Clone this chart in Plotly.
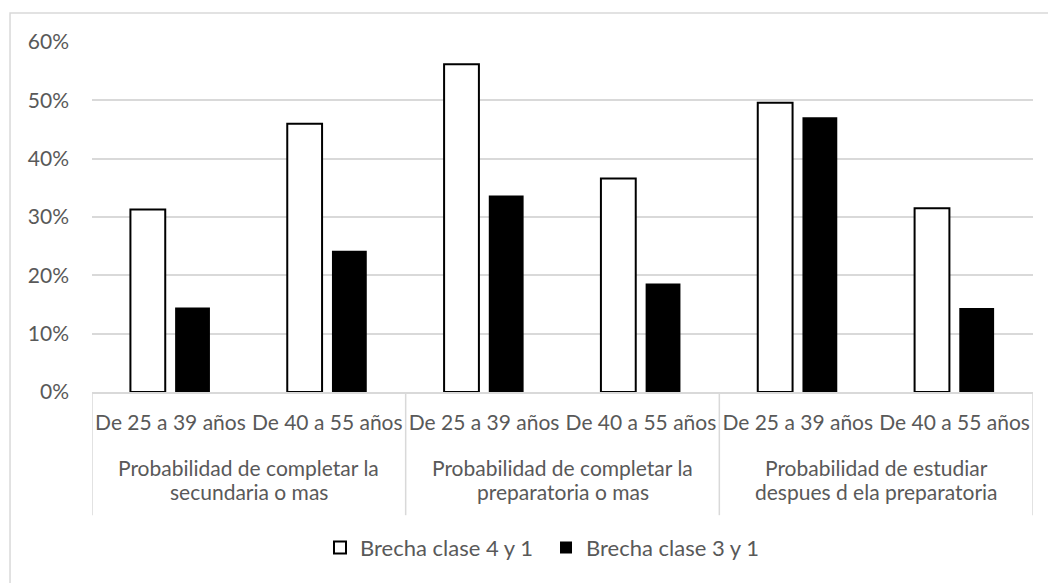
import plotly.graph_objects as go

# Age brackets (first category level) and their groups (second level)
age_labels = ["De 25 a 39 años", "De 40 a 55 años",
              "De 25 a 39 años", "De 40 a 55 años",
              "De 25 a 39 años", "De 40 a 55 años"]
group_labels = [["Probabilidad de completar la", "secundaria o mas"],
                ["Probabilidad de completar la", "preparatoria o mas"],
                ["Probabilidad de estudiar", "despues d ela preparatoria"]]

# Gap series
brecha_4_1 = [0.313, 0.460, 0.562, 0.366, 0.496, 0.315]
brecha_3_1 = [0.145, 0.242, 0.337, 0.186, 0.471, 0.144]

y_ticks = [0, 0.1, 0.2, 0.3, 0.4, 0.5, 0.6]

FONT = "Lato"
TXT = "#595959"
GRID = "#d9d9d9"

xs = list(range(len(age_labels)))

fig = go.Figure()
fig.add_trace(go.Bar(
    x=xs, y=brecha_4_1, name="Brecha clase 4 y 1",
    width=0.222, offset=-0.255,
    marker=dict(color="white", line=dict(color="black", width=2)),
))
fig.add_trace(go.Bar(
    x=xs, y=brecha_3_1, name="Brecha clase 3 y 1",
    width=0.222, offset=0.03,
    marker=dict(color="black", line=dict(color="black", width=0)),
))

# Group dividers below the category axis
shapes = []
for xb in [-0.5, 1.5, 3.5, 5.5]:
    shapes.append(dict(type="line", xref="x", yref="paper",
                       x0=xb, x1=xb, y0=0, y1=-0.352,
                       line=dict(color=GRID, width=1.5)))
# Chart frame
shapes.append(dict(type="rect", xref="paper", yref="paper",
                   x0=-0.0871, x1=1.2, y0=1.083, y1=-0.8,
                   line=dict(color=GRID, width=1.5), layer="below"))

# Second-level (group) labels, one annotation per line
annotations = []
for i, lines in enumerate(group_labels):
    for j, line in enumerate(lines):
        annotations.append(dict(x=2 * i + 0.5, xref="x",
                                y=-0.2171 - 0.0686 * j, yref="paper",
                                text=line, showarrow=False, yanchor="middle",
                                font=dict(family=FONT, size=21, color=TXT)))

fig.update_layout(
    width=1048, height=583,
    margin=dict(l=92, r=15, t=42, b=191),
    paper_bgcolor="white", plot_bgcolor="white",
    barmode="overlay",
    showlegend=True,
    legend=dict(orientation="h", x=0.2423, xanchor="left", y=-0.445,
                yanchor="middle", entrywidth=181, entrywidthmode="pixels",
                font=dict(family=FONT, size=22, color=TXT),
                traceorder="normal"),
    shapes=shapes,
    annotations=annotations,
    xaxis=dict(range=[-0.5, 5.5], tickmode="array", tickvals=xs,
               ticktext=age_labels, showgrid=False, zeroline=False,
               showline=True, linecolor=GRID, linewidth=1.5,
               ticks="", ticklabelstandoff=11,
               tickfont=dict(family=FONT, size=21, color=TXT)),
    yaxis=dict(range=[0, 0.6], tickmode="array", tickvals=y_ticks,
               tickformat=".0%", showgrid=True, gridcolor=GRID, gridwidth=1.5,
               zeroline=False, showline=False, ticks="",
               ticklabelstandoff=22,
               tickfont=dict(family=FONT, size=21, color=TXT)),
)

fig.write_html("out.html")
